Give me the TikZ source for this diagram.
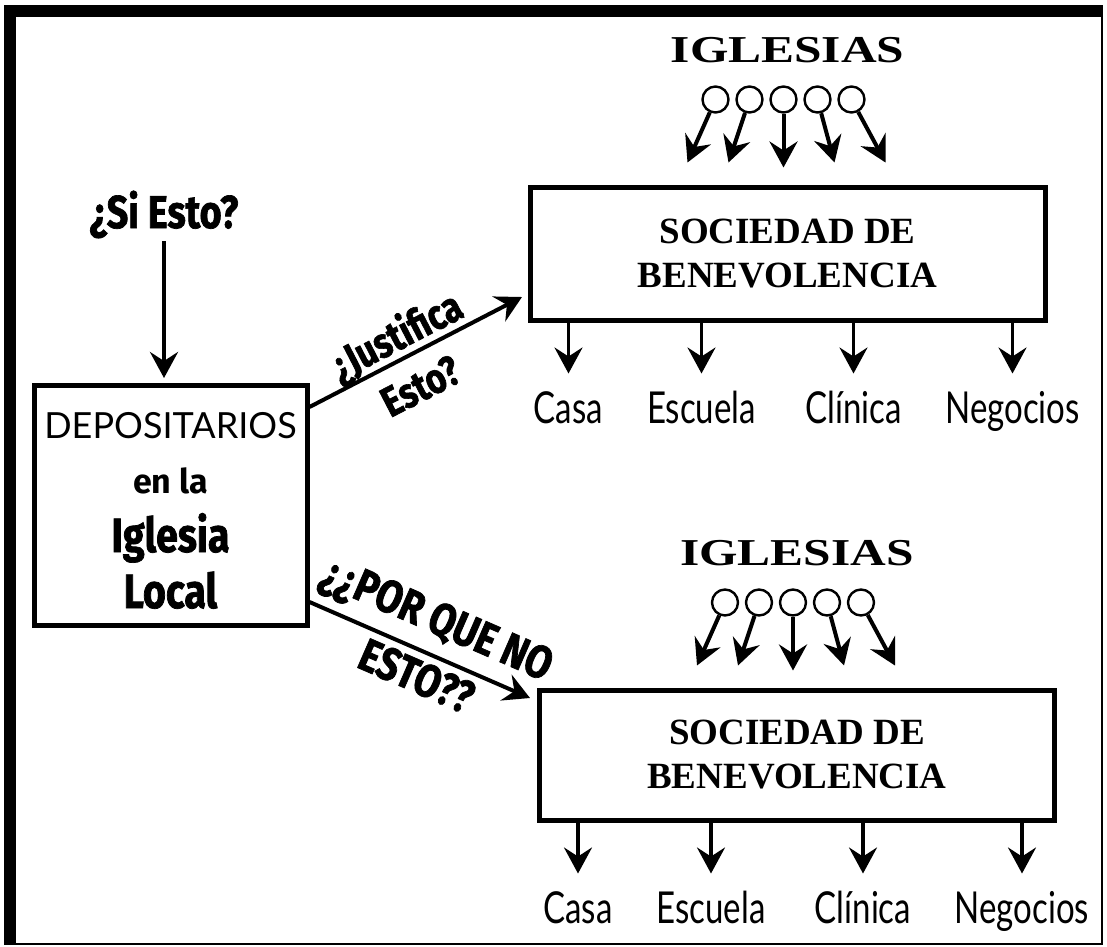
\documentclass[tikz,border=0pt]{standalone}
\usepackage{fontspec}
\setmainfont{Liberation Serif}
\newfontfamily\widefont{Liberation Serif}[FakeStretch=1.3]
\newfontfamily\comicfont{Fira Sans}[FakeStretch=0.82, FakeBold=1.5]
\newfontfamily\roundfont{Fira Sans}
\newfontfamily\decofont{Lato}
\newfontfamily\decofontn{Lato}[FakeStretch=0.75]
\usetikzlibrary{arrows.meta}

\tikzset{
  sbox/.style={draw, line width=5pt, inner sep=0pt},
  sociedad/.style={align=center, font=\bfseries\fontsize{37}{44}\selectfont},
  churches/.style={font=\widefont\bfseries\fontsize{38}{40}\selectfont, inner sep=0pt},
  bead/.style={circle, draw, line width=2.4pt, minimum size=26pt, inner sep=0pt},
  ask/.style={font=\comicfont\bfseries\fontsize{#1}{#1}\selectfont, inner sep=0pt},
  deco/.style={font=\decofont\fontsize{36}{40}\selectfont, inner sep=0pt},
  roundtxt/.style={font=\roundfont\bfseries\fontsize{34}{36}\selectfont, inner sep=0pt},
  dest/.style={font=\decofontn\fontsize{44}{44}\selectfont, text height=32pt, text depth=8pt, inner sep=0pt, outer sep=18pt}
}

\begin{document}
\begin{tikzpicture}[x=1pt, y=-1pt, line width=4pt, >={Stealth[length=26pt, width=28pt, inset=9pt]}]
    \useasboundingbox (0,0) rectangle (1107,946);
    % frame
    \draw[line width=2pt] (5,6) rectangle (1102,944);
    \fill (5,6) rectangle (1102,17);
    \fill (5,6) rectangle (16,944);

    % boxes
    \node[sbox, minimum width=273pt, minimum height=240pt] (dep) at (170.5,505.5) {};
    \node[sbox, sociedad, minimum width=515pt, minimum height=133pt] (soc1) at (787.5,253.5) {SOCIEDAD DE\\BENEVOLENCIA};
    \node[sbox, sociedad, minimum width=515pt, minimum height=130pt] (soc2) at (797,755) {SOCIEDAD DE\\BENEVOLENCIA};

    \node[deco, anchor=base] (deptitle) at (170.5,438) {DEPOSITARIOS};
    \node[roundtxt, anchor=base] (depen) at (170.5,493) {en la};
    \node[ask=48, anchor=base] (depigl) at (170.5,552) {Iglesia};
    \node[ask=48, anchor=base] (deploc) at (170.5,608) {Local};

    \node[ask=46, inner sep=1pt, anchor=base] (siesto) at (164,228) {¿Si Esto?};
    \draw[->, shorten >=5pt] (siesto) -- (siesto |- dep.north);

    \draw[->] ([yshift=-24pt]dep.north east) -- ([xshift=-5.5pt, yshift=25.5pt]soc1.south west)
        node[ask=42, sloped, pos=.457, anchor=south, text depth=0pt, outer sep=9pt] (justifica) {¿Justifica}
        node[ask=42, sloped, pos=.452, anchor=north, text height=29pt, outer sep=18pt] (justesto) {Esto?};
    \draw[->] ([yshift=26pt]dep.south east) -- ([xshift=-7pt, yshift=-10.5pt]soc2.north west)
        node[ask=46, sloped, pos=.514, anchor=south, text depth=0pt, outer sep=21pt] (porque) {¿¿POR QUE NO}
        node[ask=46, sloped, pos=.531, anchor=north, text height=31pt, outer sep=10pt] (poresto) {ESTO??};

    % churches and what the society runs
    \foreach \s in {soc1,soc2} {
        \node[churches, anchor=base] (\s-igl) at ([shift={(0,-122)}]\s.north) {IGLESIAS};
        \foreach \cx/\tx/\ty [count=\i] in {-72/-100/-22, -38/-59/-22, -4/-4/-17, 30/47/-22, 64/98/-22} {
            \node[bead] (\s-c\i) at ([shift={(\cx,-85)}]\s.north) {};
            \coordinate (\s-t\i) at ([shift={(\tx,\ty)}]\s.north);
            \draw[->] (\s-c\i) -- (\s-t\i);
        }
        \foreach \lx/\txt [count=\i] in {41/Casa, 174/Escuela, 326/Clínica, 485/Negocios} {
            \node[dest, anchor=base] (\s-l\i) at ([shift={(\lx,101)}]\s.south west) {\txt};
            \draw[->, line width=3.5pt] (\s.south -| \s-l\i) -- (\s-l\i);
        }
    }
\end{tikzpicture}
\end{document}
